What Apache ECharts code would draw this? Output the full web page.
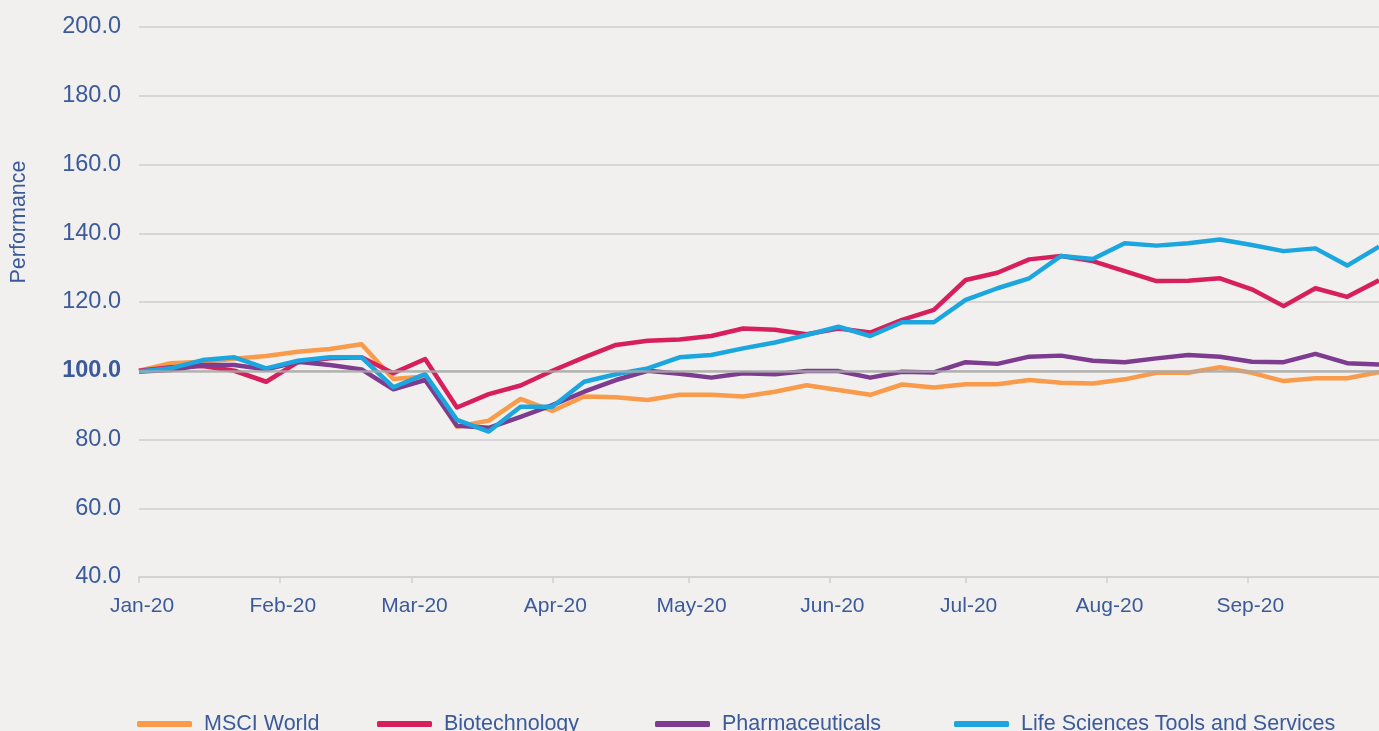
<!DOCTYPE html>
<html>
<head>
<meta charset="utf-8">
<script src="https://cdn.jsdelivr.net/npm/echarts@6/dist/echarts.min.js"></script>
<style>
html, body { margin: 0; padding: 0; background: #f1f0ee; }
#chart { width: 1379px; height: 731px; }
</style>
</head>
<body>
<div id="chart"></div>
<script>
var dates = [
    "2020-01-01", "2020-01-08", "2020-01-15", "2020-01-22", "2020-01-29",
    "2020-02-05", "2020-02-12", "2020-02-19", "2020-02-26",
    "2020-03-04", "2020-03-11", "2020-03-18", "2020-03-25",
    "2020-04-01", "2020-04-08", "2020-04-15", "2020-04-22", "2020-04-29",
    "2020-05-06", "2020-05-13", "2020-05-20", "2020-05-27",
    "2020-06-03", "2020-06-10", "2020-06-17", "2020-06-24",
    "2020-07-01", "2020-07-08", "2020-07-15", "2020-07-22", "2020-07-29",
    "2020-08-05", "2020-08-12", "2020-08-19", "2020-08-26",
    "2020-09-02", "2020-09-09", "2020-09-16", "2020-09-23", "2020-09-30"
];
var msciWorld = [
    100, 102.2, 102.6, 103.5, 104.3, 105.5, 106.3, 107.7, 97.6, 98.3,
    83.7, 85.5, 91.8, 88.3, 92.5, 92.3, 91.5, 93.0, 93.0, 92.5,
    93.9, 95.8, 94.4, 93.0, 96.0, 95.1, 96.1, 96.1, 97.3, 96.5,
    96.3, 97.5, 99.4, 99.4, 101.0, 99.4, 97.0, 97.8, 97.8, 99.6
];
var biotech = [
    100, 101.0, 101.4, 100.0, 96.8, 102.5, 103.6, 103.9, 99.3, 103.4,
    89.3, 93.2, 95.7, 100.0, 103.9, 107.5, 108.7, 109.1, 110.1, 112.3,
    111.9, 110.6, 112.3, 111.1, 114.8, 117.7, 126.4, 128.5, 132.4, 133.4,
    131.9, 129.0, 126.1, 126.2, 126.9, 123.7, 118.8, 124.0, 121.5, 126.3
];
var pharma = [
    99.8, 100.2, 101.7, 101.7, 100.4, 102.6, 101.7, 100.4, 94.6, 97.3,
    84.0, 83.4, 86.6, 90.0, 93.9, 97.3, 100.0, 99.1, 98.0, 99.3,
    99.0, 99.9, 99.9, 98.0, 99.7, 99.5, 102.5, 102.0, 104.1, 104.4,
    102.9, 102.5, 103.6, 104.6, 104.1, 102.6, 102.5, 104.9, 102.2, 101.8
];
var lifeSciences = [
    99.8, 100.7, 103.1, 103.9, 100.7, 102.9, 103.9, 103.9, 95.2, 99.0,
    85.7, 82.3, 89.5, 89.5, 96.8, 99.0, 100.7, 103.9, 104.6, 106.5,
    108.2, 110.4, 112.8, 110.1, 114.1, 114.1, 120.6, 124.0, 126.9, 133.4,
    132.5, 137.1, 136.4, 137.1, 138.2, 136.6, 134.8, 135.6, 130.6, 136.1
];
var monthTicks = [
    "2020-01-01", "2020-02-01", "2020-03-01", "2020-04-01", "2020-05-01",
    "2020-06-01", "2020-07-01", "2020-08-01", "2020-09-01"
];
var monthNames = ["Jan", "Feb", "Mar", "Apr", "May", "Jun", "Jul", "Aug", "Sep", "Oct", "Nov", "Dec"];
var seriesNames = ["MSCI World", "Biotechnology", "Pharmaceuticals", "Life Sciences Tools and Services"];
var seriesColors = ["#f99b4a", "#d81f5e", "#7d3c8f", "#1ba6e0"];
var legendLeft = [137, 377, 655, 954];

var textBlue = "#3b5a9a";
var fontName = "Liberation Sans, Arial, sans-serif";

// dates -> timestamps, the x axis is a plain value axis in ms
function toTime(s) {
    var p = s.split("-");
    return Date.UTC(+p[0], +p[1] - 1, +p[2]);
}
function pairs(values) {
    return values.map(function (v, i) { return [toTime(dates[i]), v]; });
}
var tickValues = monthTicks.map(toTime);

var allValues = [msciWorld, biotech, pharma, lifeSciences];
var series = seriesNames.map(function (name, i) {
    var s = {
        name: name,
        type: "line",
        data: pairs(allValues[i]),
        symbol: "none",
        color: seriesColors[i],
        lineStyle: { width: 4.5, color: seriesColors[i], join: "round" }
    };
    if (i == 0) {
        s.markLine = {
            silent: true,
            symbol: "none",
            label: { show: false },
            lineStyle: { color: "rgba(170,170,170,0.85)", width: 2.5, type: "solid" },
            data: [{ yAxis: 100 }]
        };
    }
    return s;
});

var legends = seriesNames.map(function (name, i) {
    return {
        data: [{ name: name, icon: "roundRect" }],
        left: legendLeft[i],
        top: 713,
        padding: 0,
        itemWidth: 55,
        itemHeight: 6,
        textStyle: {
            color: textBlue,
            fontSize: 21.5,
            fontFamily: fontName,
            padding: [0, 0, 0, 7]
        },
        selectedMode: false
    };
});

var dom = document.getElementById("chart");
var myChart = echarts.init(dom);
var option = {
    backgroundColor: "#f1f0ee",
    animation: false,
    grid: { left: 139, right: -3, top: 27, bottom: 154, containLabel: false },
    legend: legends,
    graphic: [{
        type: "text",
        x: 19,
        y: 222,
        rotation: Math.PI / 2,
        style: {
            text: "Performance",
            fill: textBlue,
            fontSize: 21.5,
            fontFamily: fontName,
            align: "center",
            verticalAlign: "middle"
        }
    }],
    xAxis: {
        type: "value",
        min: toTime("2020-01-01"),
        max: toTime("2020-09-30"),
        axisLine: { show: true, lineStyle: { color: "#d3d3d3", width: 2 } },
        axisTick: { show: true, customValues: tickValues, length: 6, lineStyle: { color: "#cfcfcf", width: 1.5 } },
        splitLine: { show: false },
        axisLabel: {
            customValues: tickValues,
            color: textBlue,
            fontSize: 21,
            fontFamily: fontName,
            margin: 19,
            padding: [0, 0, 0, 6],
            formatter: function (v) {
                var d = new Date(v);
                return monthNames[d.getUTCMonth()] + "-" + String(d.getUTCFullYear()).slice(2);
            }
        }
    },
    yAxis: {
        type: "value",
        min: 40,
        max: 200,
        interval: 20,
        axisLine: { show: false },
        axisTick: { show: false },
        splitLine: { lineStyle: { color: "#d6d6d6", width: 2 } },
        axisLabel: {
            color: textBlue,
            fontSize: 23.5,
            fontFamily: fontName,
            margin: 18,
            formatter: function (v) {
                if (v == 100) return "{b|100.0}";
                return v.toFixed(1);
            },
            rich: {
                b: { fontWeight: "bold", color: textBlue, fontSize: 23.5, fontFamily: fontName }
            }
        }
    },
    series: series
};
myChart.setOption(option);
</script>
</body>
</html>
